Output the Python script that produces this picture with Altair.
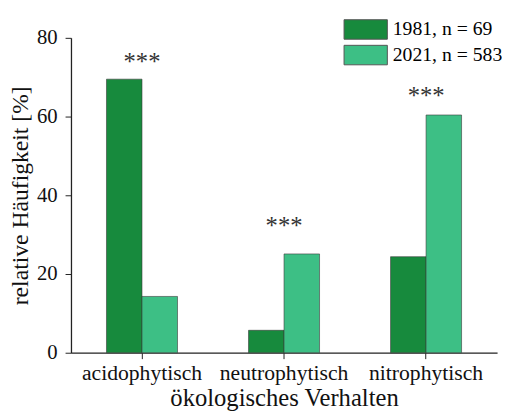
import altair as alt
import pandas as pd

categories = ["acidophytisch", "neutrophytisch", "nitrophytisch"]
series = ["1981, n = 69", "2021, n = 583"]
values_1981 = [69.5, 5.7, 24.4]
values_2021 = [14.3, 25.1, 60.4]
star_labels = ["***", "***", "***"]
star_levels = [74.5, 33.0, 66.0]
colors = ["#178a3d", "#3dbf85"]

rows = []
for c, a, b in zip(categories, values_1981, values_2021):
    rows.append({"cat": c, "series": series[0], "value": a})
    rows.append({"cat": c, "series": series[1], "value": b})
df = pd.DataFrame(rows)
stars = pd.DataFrame({"cat": categories, "label": star_labels, "level": star_levels})

FONT = "Liberation Serif"

x_enc = alt.X(
    "cat:N", sort=categories,
    scale=alt.Scale(paddingInner=0.5, paddingOuter=0.25),
    axis=alt.Axis(title="ökologisches Verhalten", labelAngle=0, labelFontSize=22,
                  titleFontSize=25, labelPadding=4, titlePadding=3, tickSize=6,
                  domainColor="#222", tickColor="#222", domainWidth=1.3)
)
y_scale = alt.Scale(domain=[0, 80], nice=False)

bars = alt.Chart(df).mark_bar(stroke="#3a3a3a", strokeWidth=0.6).encode(
    x=x_enc,
    xOffset=alt.XOffset("series:N", sort=series),
    y=alt.Y("value:Q", scale=y_scale,
            axis=alt.Axis(title="relative Häufigkeit [%]", values=[0, 10, 20, 30, 40, 50, 60, 70, 80],
                          labelExpr="datum.value % 20 === 0 ? datum.label : ''",
                          tickSize={"condition": {"test": "datum.value % 20 === 0", "value": 6}, "value": 3},
                          grid=False, labelFontSize=21, titleFontSize=24, labelPadding=8,
                          titlePadding=4, domainColor="#222", tickColor="#222", domainWidth=1.3)),
    color=alt.Color("series:N", sort=series, scale=alt.Scale(domain=series, range=colors),
                    legend=alt.Legend(orient="none", legendX=288, legendY=-20, title=None,
                                      symbolType="M-2,-0.9H2V0.9H-2Z", symbolSize=484,
                                      symbolStrokeColor="#555", symbolStrokeWidth=1,
                                      symbolOpacity=1, labelFontSize=20, labelOffset=16,
                                      rowPadding=1, labelFont=FONT)),
)

star_text = alt.Chart(stars).mark_text(font=FONT, fontSize=25, baseline="alphabetic", dy=11,
                                       color="#333").encode(
    x=alt.X("cat:N", sort=categories),
    y=alt.Y("level:Q", scale=y_scale),
    text="label:N",
)

chart = (bars + star_text).properties(
    width=433, height=320,
    autosize=alt.AutoSizeParams(type="none"),
    padding={"left": 64, "top": 27, "right": 5, "bottom": 63},
).configure(font=FONT).configure_view(stroke=None).configure_axis(
    labelFont=FONT, titleFont=FONT, labelColor="#111", titleColor="#111", titleFontWeight="normal"
)

chart.save("out.html", embed_options={"renderer": "svg", "actions": False})
